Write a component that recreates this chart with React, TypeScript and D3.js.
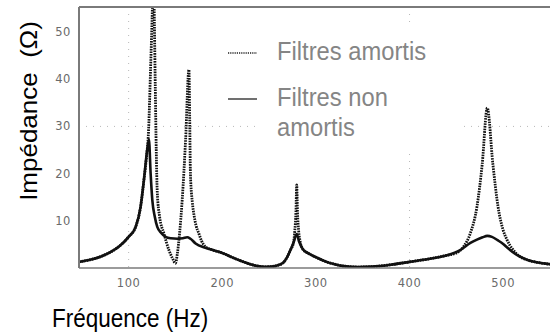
import React from "react";
import * as d3 from "d3";

// Fréquence (Hz) / Impédance (Ω)
const xTicks = [100, 200, 300, 400, 500];
const yTicks = [10, 20, 30, 40, 50];
const gridX = [100, 400];
const gridY = [30];

// Filtres non amortis (solid line, as labelled in the reference)
const solidData: [number, number][] = [
  [47, 1.3], [60, 1.8], [70, 2.4], [80, 3.3], [90, 4.6], [100, 6.6], [107.5, 8.7],
  [112.8, 13], [116.3, 18.6], [119.8, 25], [121.7, 27.2], [123.5, 20], [125.3, 14.4],
  [128, 10.8], [130.6, 8.7], [135, 7.4], [139.5, 6.6], [145, 6.3], [152, 6.2],
  [158, 6.3], [162.5, 6.5], [166, 6.2], [171.5, 5.2], [182, 4.3], [190, 3.8],
  [201, 3.1], [210, 2.3], [220, 1.5], [230, 0.8], [238, 0.4], [245, 0.25], [252, 0.3],
  [258, 0.5], [265, 1.1], [269, 2.2], [272.8, 3.8], [276, 5.3], [279.5, 7.2],
  [282, 5.6], [286, 4.0], [292, 3.1], [300, 2.3], [310, 1.4], [320, 0.8], [330, 0.4],
  [345, 0.2], [360, 0.3], [380, 0.7], [400, 1.3], [420, 1.9], [440, 2.7], [454, 3.8],
  [465, 5.3], [472, 6.0], [478, 6.5], [483, 6.8], [488, 6.6], [494, 5.9], [500, 5.1],
  [504, 4.4], [510, 3.4], [518, 2.4], [526, 1.7], [536, 1.2], [550, 0.8],
];

// Filtres amortis (dotted line, as labelled in the reference)
const dottedData: [number, number][] = [
  [47, 1.3], [60, 1.8], [70, 2.4], [80, 3.3], [90, 4.6], [100, 6.6], [107.5, 8.7],
  [112.8, 13], [116.3, 18.6], [119.8, 25], [121, 28], [123.5, 42.6], [125.5, 56],
  [126.5, 64], [127.5, 52], [128.5, 38], [129.5, 25], [130.6, 16], [133, 11],
  [137.7, 7.3], [143, 3.8], [147, 2.0], [150, 1.0], [152, 3], [154.4, 7.3],
  [157.2, 14.4], [160.8, 27], [164.4, 42], [165.2, 32], [166, 20], [168, 14],
  [170, 11], [172, 9], [175, 7.3], [178, 5.7], [182, 4.5], [190, 3.8],
  [201, 3.1], [210, 2.3], [220, 1.5], [230, 0.8], [238, 0.4], [245, 0.25], [252, 0.3],
  [258, 0.5], [265, 1.1], [269, 2.2], [272.8, 3.8], [276, 5.3], [277.5, 8],
  [278.7, 12], [279.5, 17.6], [280.3, 12], [281.5, 8], [283, 5.8], [286, 4.0],
  [292, 3.1], [300, 2.3], [310, 1.4], [320, 0.8], [330, 0.4], [345, 0.2], [360, 0.3],
  [380, 0.7], [400, 1.3], [420, 1.9], [440, 2.7], [450, 3.2], [458, 4.6], [465, 7.4],
  [472, 13], [477.6, 22], [483, 33.9], [489, 22], [494.5, 13], [500, 8], [504, 6],
  [510, 4], [518, 2.4], [526, 1.7], [536, 1.2], [550, 0.8],
];

const legendItems = [
  { label: ["Filtres amortis"], dash: "1.2,1" },
  { label: ["Filtres non", "amortis"], dash: null },
];

const W = 550;
const H = 333;
const left = 79;
const right = 550;
const top = 7;
const bottom = 268;

export default function App() {
  const x = d3.scaleLinear().domain([47, 550]).range([left, right]);
  const y = d3.scaleLinear().domain([0, 55.3]).range([bottom, top]);
  const line = d3
    .line<[number, number]>()
    .x((d) => x(d[0]))
    .y((d) => y(d[1]))
    .curve(d3.curveMonotoneX);

  const tickFont = "DejaVu Sans, sans-serif";
  const titleFont = "Liberation Sans, Arial, sans-serif";

  return (
    <svg
      width={W}
      height={H}
      style={{ position: "fixed", left: 0, top: 0, background: "#fff" }}
    >
      <defs>
        <clipPath id="plotclip">
          <rect x={left} y={top} width={right - left} height={bottom - top} />
        </clipPath>
      </defs>
      <rect x={0} y={0} width={W} height={H} fill="#fff" />

      {/* grid */}
      {gridX.map((t) => (
        <line
          key={"gx" + t}
          x1={x(t)}
          x2={x(t)}
          y1={top}
          y2={bottom}
          stroke="#b8b8b8"
          strokeWidth={1}
          strokeDasharray="1,6"
        />
      ))}
      {gridY.map((t) => (
        <line
          key={"gy" + t}
          x1={left}
          x2={right}
          y1={y(t)}
          y2={y(t)}
          stroke="#b8b8b8"
          strokeWidth={1}
          strokeDasharray="1,6"
        />
      ))}

      {/* legend background box */}
      <rect x={257} y={28} width={205} height={120} fill="#fff" />

      {/* curves */}
      <g clipPath="url(#plotclip)">
        <path
          d={line(dottedData) || ""}
          fill="none"
          stroke="#111"
          strokeWidth={2.8}
          strokeDasharray="1.6,1"
        />
        <path
          d={line(solidData) || ""}
          fill="none"
          stroke="#111"
          strokeWidth={2.6}
        />
      </g>

      {/* frame */}
      <line x1={left} x2={left} y1={top} y2={bottom} stroke="#7a7a7a" strokeWidth={2} />
      <line x1={left} x2={right} y1={top} y2={top} stroke="#7a7a7a" strokeWidth={2} />
      <line x1={left} x2={right} y1={bottom} y2={bottom} stroke="#7a7a7a" strokeWidth={1.5} />

      {/* ticks */}
      {xTicks.map((t) => (
        <text
          key={"xt" + t}
          x={x(t)}
          y={287}
          textAnchor="middle"
          fontFamily={tickFont}
          fontSize={11.5}
          letterSpacing={0.6}
          fill="#6a6a6a"
        >
          {t}
        </text>
      ))}
      {yTicks.map((t) => (
        <text
          key={"yt" + t}
          x={71}
          y={y(t) + 4}
          textAnchor="end"
          fontFamily={tickFont}
          fontSize={11.5}
          letterSpacing={0.6}
          fill="#6a6a6a"
        >
          {t}
        </text>
      ))}

      {/* legend */}
      {legendItems.map((item, i) => {
        const ly = i === 0 ? 53 : 99;
        const ty = i === 0 ? 60 : 106;
        return (
          <g key={"lg" + i}>
            <line
              x1={228}
              x2={257}
              y1={ly}
              y2={ly}
              stroke="#222"
              strokeWidth={i === 0 ? 1.5 : 1.3}
              strokeDasharray={item.dash || undefined}
            />
            {item.label.map((s, j) => (
              <text
                key={j}
                transform={`translate(277,${ty + j * 30}) scale(0.95,1)`}
                fontFamily={titleFont}
                fontSize={25}
                fill="#858585"
              >
                {s}
              </text>
            ))}
          </g>
        );
      })}

      {/* axis titles */}
      <text
        transform="translate(52,327) scale(0.9,1)"
        fontFamily={titleFont}
        fontSize={25}
        fill="#000"
      >
        Fréquence (Hz)
      </text>
      <text
        transform="translate(37,111) scale(0.9,1) rotate(-90)"
        textAnchor="middle"
        fontFamily={titleFont}
        fontSize={26}
        fill="#000"
        style={{ whiteSpace: "pre" }}
      >
        {"Impédance  (Ω)"}
      </text>
    </svg>
  );
}
